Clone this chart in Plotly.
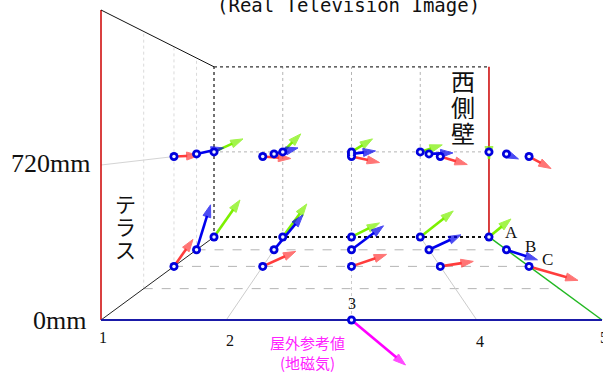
import plotly.graph_objects as go

FIG_W, FIG_H = 603, 374

# ---- room layout -------------------------------------------------------
COLUMNS = [1, 2, 3, 4, 5]
COLUMN_LABELS = ["1", "2", "3", "4", "5"]
ROWS = ["A", "B", "C"]
ROW_DEPTH = [4, 3, 2]                      # distance from the front edge
ROW_COLORS = ["#7cf000", "#0000ee", "#ff3c3c"]
LEVEL_LABELS = ["0mm", "720mm"]
LEVELS_MM = [0, 720]
ROOM_HEIGHT_MM = 1440
ROOM_DEPTH = 4

# ---- measured field vectors (east, up) for rows A, B, C, columns 1..5 ---
FLOOR_EAST = [[26, 24, 28, 33, 22], [14, 29, 32, 32, 31], [19, 33, 35, 33, 49]]
FLOOR_UP = [[37, 33, 14, 26, 18], [45, 35, 24, 15, -10], [27, 15, 12, 5, -14]]
DESK_EAST = [[29, 18, 21, 22, 0], [27, 24, 24, 24, 12], [25, 28, 28, 27, 22]]
DESK_UP = [[13, 18, 13, 7, -7], [6, 6, 3, 1, -5], [1, -2, -6, -8, -12]]
OUTDOOR_EAST, OUTDOOR_UP = 54, -45
OUTDOOR_COL = 3

# ---- perspective -------------------------------------------------------
VP_X = 3.0
VP_MM = 855.0
DEPTH_K = 0.2055
X_RANGE = [0.1936, 5.008]
Y_RANGE = [-250.8, 1486.4]
PX_X = FIG_W / (X_RANGE[1] - X_RANGE[0])
PX_MM = FIG_H / (Y_RANGE[1] - Y_RANGE[0])


def project(col, depth, mm):
    s = 1.0 / (1.0 + DEPTH_K * depth)
    return VP_X + (col - VP_X) * s, VP_MM + (mm - VP_MM) * s


fig = go.Figure()
shapes = []


def edge(p, q, color, width=1.0, dash="solid"):
    x0, y0 = project(*p)
    x1, y1 = project(*q)
    shapes.append(dict(type="line", xref="x", yref="y", x0=x0, y0=y0, x1=x1, y1=y1,
                       line=dict(color=color, width=width, dash=dash), layer="below"))


c0, c1 = COLUMNS[0], COLUMNS[-1]
top = ROOM_HEIGHT_MM
D = ROOM_DEPTH

# grid on the left wall
for d in range(1, D):
    edge((c0, d, 0), (c0, d, top), "#dadada", 1, "dot")
edge((c0, 0, LEVELS_MM[1]), (c0, D, LEVELS_MM[1]), "#d4d4d4", 1)
# grid on the back wall
for c in COLUMNS[1:-1]:
    edge((c, D, 0), (c, D, top), "#b4b4b4", 1, "dot")
edge((c0, D, LEVELS_MM[1]), (c1, D, LEVELS_MM[1]), "#b4b4b4", 1, "dot")
# grid on the floor
for d in range(1, D):
    edge((c0, d, 0), (c1, d, 0), "#b4b4b4", 1, "dash")
for c in COLUMNS[1:-1]:
    edge((c, 0, 0), (c, D, 0), "#cccccc", 1, "dot" if c == 3 else "solid")

# room edges
edge((c0, D, top), (c1, D, top), "#333333", 1.2, "dot")
edge((c0, D, 0), (c0, D, top), "#444444", 1.5, "dot")
edge((c0, D, 0), (c1, D, 0), "#111111", 2, "dot")
edge((c1, D, 0), (c1, D, top), "#cc0000", 1.5)
edge((c0, 0, 0), (c0, 0, top), "#cc0000", 1.5)
edge((c0, 0, top), (c0, D, top), "#111111", 1)
edge((c0, 0, 0), (c0, D, 0), "#222222", 1)
edge((c1, 0, 0), (c1, D, 0), "#22b822", 1.5)
edge((c0, 0, 0), (c1, 0, 0), "#1a1aa8", 2)


def arrow(x0, y0, east, up, color):
    x1 = x0 + east / PX_X
    y1 = y0 + up / PX_MM
    fig.add_trace(go.Scatter(
        x=[x0, x1], y=[y0, y1], mode="lines+markers",
        line=dict(color=color, width=2.6),
        marker=dict(symbol="arrow", size=[0, 13], angleref="previous",
                    color=color, line=dict(color=color, width=1)),
        hoverinfo="skip", showlegend=False))


pts_x, pts_y = [], []
for level, east_tab, up_tab in ((LEVELS_MM[0], FLOOR_EAST, FLOOR_UP),
                                (LEVELS_MM[1], DESK_EAST, DESK_UP)):
    for r, depth in enumerate(ROW_DEPTH):
        for i, c in enumerate(COLUMNS):
            x, y = project(c, depth, level)
            arrow(x, y, east_tab[r][i], up_tab[r][i], ROW_COLORS[r])
            pts_x.append(x)
            pts_y.append(y)

ox, oy = project(OUTDOOR_COL, 0, 0)
arrow(ox, oy, OUTDOOR_EAST, OUTDOOR_UP, "#ff00ff")
pts_x.append(ox)
pts_y.append(oy)

fig.add_trace(go.Scatter(x=pts_x, y=pts_y, mode="markers",
                         marker=dict(size=9, color="#0000dd", line=dict(width=0)),
                         hoverinfo="skip", showlegend=False))
fig.add_trace(go.Scatter(x=pts_x, y=pts_y, mode="markers",
                         marker=dict(size=3.5, color="#eef2ff", line=dict(width=0)),
                         hoverinfo="skip", showlegend=False))

annotations = []
serif = "Liberation Serif, Times New Roman, serif"
cjk = "Noto Sans CJK JP"


def data_text(text, x, y, size, xshift=0, yshift=0, xanchor="center",
              color="#111111", family=serif):
    annotations.append(dict(text=text, x=x, y=y, xref="x", yref="y", showarrow=False,
                            xanchor=xanchor, yanchor="middle", xshift=xshift, yshift=yshift,
                            font=dict(size=size, color=color, family=family)))


def paper_text(text, px, py, size, color="#111111", family=cjk, height=None):
    ann = dict(text=text, x=px / FIG_W, y=1 - py / FIG_H, xref="paper",
               yref="paper", showarrow=False, xanchor="center",
               yanchor="middle", font=dict(size=size, color=color, family=family))
    if height is not None:
        ann["height"] = height
    annotations.append(ann)


# column numbers along the front edge
tick_dx = [2, 4, 0, 3, 2]
tick_dy = [-17, -20, 17, -21, -17]
for c, lab, dx, dy in zip(COLUMNS, COLUMN_LABELS, tick_dx, tick_dy):
    x, y = project(c, 0, 0)
    data_text(lab, x, y, 16, dx, dy)

# height labels on the front-left edge
for lab, mm, dx, dy in zip(LEVEL_LABELS, LEVELS_MM, [-13, -9], [0, 2]):
    x, y = project(c0, 0, mm)
    data_text(lab, x, y, 26, dx, dy, xanchor="right")

# row labels next to the last column
row_dx = [23, 24, 18]
row_dy = [4, 3, 7]
for r, depth in enumerate(ROW_DEPTH):
    x, y = project(c1, depth, 0)
    data_text(ROWS[r], x, y, 17, row_dx[r], row_dy[r])

# wall names, written vertically: one character per box, stacked tightly
for k, ch in enumerate("テラス"):
    paper_text(ch, 125, 203 + 23 * k, 21, height=22)
for k, ch in enumerate("西側壁"):
    paper_text(ch, 463, 81 + 25.5 * k, 24, height=25)

paper_text("屋外参考値<br>(地磁気)", 307, 352, 15, color="#ff22ff")

paper_text("(Real Television Image)", 348, 5, 19, family="DejaVu Sans Mono")

fig.update_layout(
    width=FIG_W, height=FIG_H, autosize=False,
    margin=dict(l=0, r=0, t=0, b=0),
    paper_bgcolor="white", plot_bgcolor="white",
    xaxis=dict(range=X_RANGE, visible=False, fixedrange=True),
    yaxis=dict(range=Y_RANGE, visible=False, fixedrange=True),
    shapes=shapes, annotations=annotations, showlegend=False,
)

fig.write_html("out.html")
